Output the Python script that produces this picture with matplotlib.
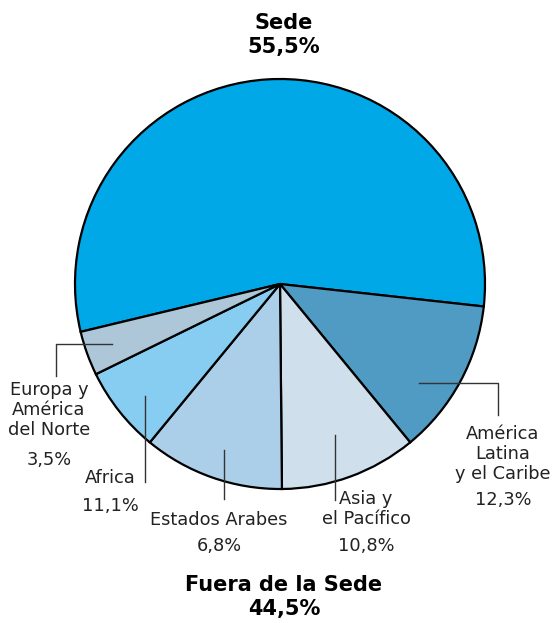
import matplotlib.pyplot as plt

# datos
regiones = ["Sede", "América Latina y el Caribe", "Asia y el Pacífico",
            "Estados Arabes", "Africa", "Europa y América del Norte"]
valores = [55.5, 12.3, 10.8, 11.1, 6.8, 3.5]
colores = ["#00A8E8", "#4F9BC3", "#CFE0EC", "#ABCFE8", "#87CDF2", "#ADC7D8"]
etiquetas = ["", "América\nLatina\ny el Caribe", "Asia y\nel Pacífico",
             "Estados Arabes", "Africa", "Europa y\nAmérica\ndel Norte"]
porcentajes = ["55,5%", "12,3%", "10,8%", "6,8%", "11,1%", "3,5%"]

W, H = 555, 623
fig = plt.figure(figsize=(W / 100, H / 100), dpi=100)
ax = fig.add_axes([0, 0, 1, 1])

def py(y):
    return H - y

ax.pie(valores, colors=colores, startangle=193.5, counterclock=False,
       center=(280, py(284)), radius=205,
       wedgeprops=dict(edgecolor='black', linewidth=1.6))
ax.set_xlim(0, W)
ax.set_ylim(0, H)
ax.set_aspect('equal')
ax.axis('off')

fuente = 'DejaVu Sans'
# titulos
ax.text(284, py(35), "Sede\n55,5%", ha='center', va='center', fontsize=15,
        fontweight='bold', linespacing=1.2, family=fuente)
ax.text(284, py(597), "Fuera de la Sede\n44,5%", ha='center', va='center',
        fontsize=15, fontweight='bold', linespacing=1.2, family=fuente)

# lineas guia
lc = dict(color='#333333', linewidth=1)
ax.plot([112, 56, 56], [py(344), py(344), py(376)], **lc)
ax.plot([145, 145], [py(396), py(482)], **lc)
ax.plot([224, 224], [py(450), py(499)], **lc)
ax.plot([335, 335], [py(435), py(500)], **lc)
ax.plot([419, 498, 498], [py(383), py(383), py(415)], **lc)

# etiquetas de regiones
pos = {1: (503, 454, 500), 2: (366, 509, 546), 3: (219, 520, 546),
       4: (110, 478, 506), 5: (49, 410, 460)}
for i, (x, yl, yp) in pos.items():
    ax.text(x, py(yl), etiquetas[i], ha='center', va='center', fontsize=12.8,
            linespacing=1.12, family=fuente, color='#222222')
    ax.text(x, py(yp), porcentajes[i], ha='center', va='center', fontsize=12.8,
            family=fuente, color='#222222')

fig.savefig("out.png", dpi=100)
